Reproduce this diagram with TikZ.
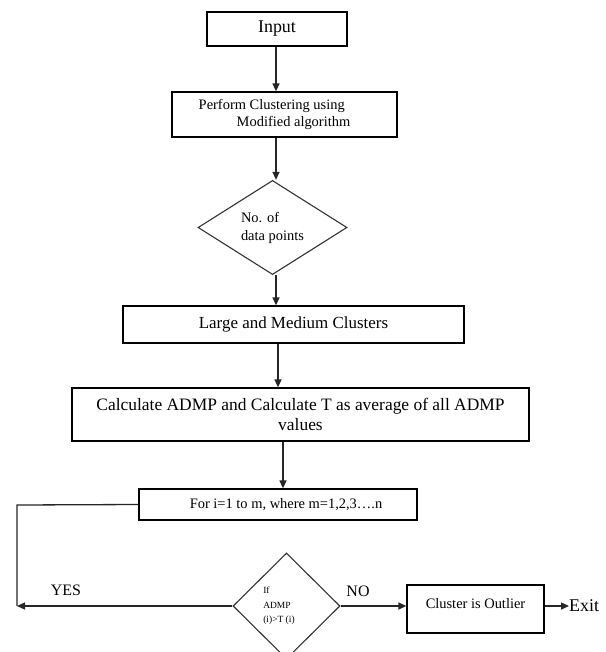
\documentclass[tikz,border=0pt]{standalone}
\usepackage{fontspec}
\setmainfont{Liberation Serif}
\usetikzlibrary{shapes.geometric,arrows.meta}
\begin{document}
\begin{tikzpicture}[x=1bp,y=-1bp,
  box/.style={draw=black,line width=1.3bp,rectangle,inner sep=0pt},
  dbox/.style={draw=black!80,line width=1.1bp,diamond,inner sep=0pt,aspect=1},
  conn/.style={line width=1.3bp,draw=black!85},
  arr/.style={conn,-{Triangle[length=8bp,width=7bp]}},
  lbl/.style={inner sep=0pt,font=\fontsize{16}{18}\selectfont}]
\useasboundingbox (0,0) rectangle (606,652);
\clip (0,0) rectangle (606,652);
\fill[white] (0,0) rectangle (606,652);

\node[box,minimum width=140bp,minimum height=34bp,font=\fontsize{18}{20}\selectfont] (input) at (277,29) {Input};
\node[box,minimum width=225bp,minimum height=45bp,align=left,font=\fontsize{14.5}{17}\selectfont] (perform) at (284.5,114.5)
  {Perform Clustering using\\\hspace*{38bp}Modified algorithm\hspace*{20bp}};
\node[dbox,minimum width=149bp,minimum height=85bp,align=left,font=\fontsize{14.5}{18}\selectfont] (dia1) at (272.5,227.5)
  {No. of\\data points};
\node[box,minimum width=341bp,minimum height=37bp,font=\fontsize{17}{20}\selectfont] (large) at (293.5,324.5) {Large and Medium Clusters};
\node[box,minimum width=457bp,minimum height=53bp,align=center,font=\fontsize{17.5}{20}\selectfont] (calc) at (300.5,414.5)
  {Calculate ADMP and Calculate T as average of all ADMP\\values};
\node[box,minimum width=278bp,minimum height=31bp,font=\fontsize{14.5}{17}\selectfont] (forb) at (278,504.5)
  {\hspace*{16bp}For i=1 to m, where m=1,2,3….n};
\node[dbox,minimum width=107bp,minimum height=106bp,align=left,font=\fontsize{9.5}{14.5}\selectfont] (dia2) at (286.5,606)
  {If\\ADMP\\(i)>T (i)\hspace*{15bp}};
\node[box,minimum width=137bp,text height=23bp,text depth=25bp,font=\fontsize{14.5}{17}\selectfont] (outlier) at (475.5,609)
  {Cluster is Outlier};
\node[inner sep=0pt,anchor=west,font=\fontsize{18}{20}\selectfont] (exit) at (569,606) {Exit};

\node[lbl] (yes) at (66,590) {YES};
\node[lbl] (no) at (358,591) {NO};

\coordinate (corner) at (17,505);
\coordinate (tip) at (17,606);

\draw[arr] (input.south -| 276,0) -- (perform.north -| 276,0);
\draw[arr] (perform.south -| 276,0) -- (dia1.north -| 276,0);
\draw[arr] (dia1.south -| 276,0) -- (large.north -| 276,0);
\draw[arr] (large.south -| 278,0) -- (calc.north -| 278,0);
\draw[arr] (calc.south -| 283,0) -- (forb.north -| 283,0);
\draw[conn] (forb.west) -- (corner) -- (tip);
\draw[arr] (dia2.west) -- (tip);
\draw[arr] (dia2.east) -- (dia2.east -| outlier.west);
\draw[arr] (outlier.east |- exit.west) -- (exit.west);
\end{tikzpicture}
\end{document}
